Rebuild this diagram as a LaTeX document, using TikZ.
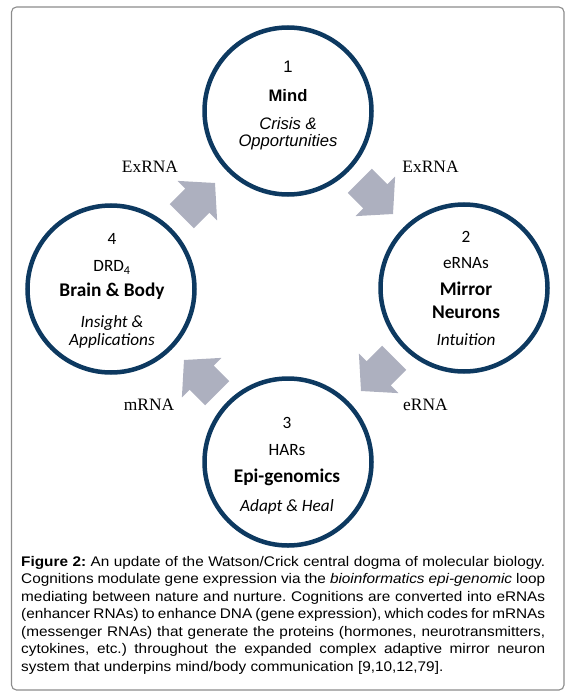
\documentclass[tikz,border=0pt]{standalone}
\usepackage{fontspec}
\setmainfont{Liberation Serif}
\newfontfamily\arialf{Liberation Sans}
\newfontfamily\capf[FakeStretch=1.1]{Liberation Sans}
\newfontfamily\calf{Carlito}
\newfontfamily\timesf{Liberation Serif}
\definecolor{circnavy}{HTML}{0D3960}
\definecolor{arrowgray}{HTML}{ADB0BF}
\definecolor{framegray}{HTML}{8C8C8C}
\tikzset{
  ring/.style={circle, draw=circnavy, line width=4.5bp, minimum size=167bp, inner sep=0pt},
  atxt/.style={anchor=base, inner sep=0pt, font=\arialf\fontsize{16.7}{20}\selectfont},
  ctxt/.style={anchor=base, inner sep=0pt, font=\calf\fontsize{17.3}{20}\selectfont},
  cbold/.style={anchor=base, inner sep=0pt, font=\calf\bfseries\fontsize{19.4}{22}\selectfont},
  lbl/.style={anchor=base, inner sep=0pt, font=\timesf\fontsize{17.5}{20}\selectfont},
  blockarrow/.pic={\fill[arrowgray] (0,0) -- (-25,28) -- (-25,17) -- (-47,17) -- (-47,-17) -- (-25,-17) -- (-25,-28) -- cycle;}
}
\begin{document}
\begin{tikzpicture}[x=1bp,y=-1bp]
\useasboundingbox (0,0) rectangle (573,699);
\draw[framegray, line width=1.1bp, rounded corners=5bp] (11.5,7) rectangle (564,690);

% circles
\node[ring] (mind) at (288,111) {};
\node[ring] (mirror) at (464,288) {};
\node[ring] (epi) at (288,462) {};
\node[ring] (brain) at (111,289) {};

% top circle text
\node[atxt] (t1) at (288,72.7) {1};
\node[atxt, font=\arialf\bfseries\fontsize{16.7}{20}\selectfont] (t1b) at (288,101.7) {Mind};
\node[atxt, font=\arialf\itshape\fontsize{16.7}{20}\selectfont] (t1c) at (288,129.3) {Crisis \&};
\node[atxt, font=\arialf\itshape\fontsize{16.7}{20}\selectfont] (t1d) at (288,146.7) {Opportunities};

% right circle text
\node[ctxt] (t2) at (466,242.3) {2};
\node[ctxt] (t2a) at (466,268.3) {eRNAs};
\node[cbold] (t2b) at (466,295) {Mirror};
\node[cbold] (t2c) at (466,318.3) {Neurons};
\node[ctxt, font=\calf\itshape\fontsize{17.3}{20}\selectfont] (t2d) at (466,345) {Intuition};

% bottom circle text
\node[ctxt] (t3) at (287,428) {3};
\node[ctxt] (t3a) at (287,455) {HARs};
\node[cbold] (t3b) at (287,482) {Epi-genomics};
\node[ctxt, font=\calf\itshape\fontsize{17.3}{20}\selectfont] (t3c) at (287,511) {Adapt \& Heal};

% left circle text
\node[ctxt] (t4) at (112,244) {4};
\node[ctxt] (t4a) at (112,271.7) {DRD\textsubscript{4}};
\node[cbold] (t4b) at (112,296.7) {Brain \& Body};
\node[ctxt, font=\calf\itshape\fontsize{17.3}{20}\selectfont] (t4c) at (112,327.7) {Insight \&};
\node[ctxt, font=\calf\itshape\fontsize{17.3}{20}\selectfont] (t4d) at (112,345) {Applications};

% block arrows
\pic[rotate=45] (a1) at (215,183) {blockarrow};
\pic[rotate=-45] (a2) at (393,214) {blockarrow};
\pic[rotate=-135] (a3) at (361,391) {blockarrow};
\pic[rotate=135] (a4) at (184,360) {blockarrow};

% labels
\node[lbl] (l1) at (150,172.3) {ExRNA};
\node[lbl] (l2) at (430.5,172.3) {ExRNA};
\node[lbl] (l3) at (425.5,410) {eRNA};
\node[lbl] (l4) at (149,410.7) {mRNA};

% caption
\node[anchor=base west, inner sep=0pt, font=\capf\fontsize{14}{17.6}\selectfont] (cap) at (21,566) {\parbox[t]{524bp}{\frenchspacing\hyphenpenalty=10000\exhyphenpenalty=10000%
\textbf{Figure 2:} An update of the Watson/Crick central dogma of molecular biology.\linebreak
Cognitions modulate gene expression via the \textit{bioinformatics epi-genomic} loop\linebreak
mediating between nature and nurture. Cognitions are converted into eRNAs\linebreak
(enhancer RNAs) to enhance DNA (gene expression), which codes for mRNAs\linebreak
(messenger RNAs) that generate the proteins (hormones, neurotransmitters,\linebreak
cytokines, etc.) throughout the expanded complex adaptive mirror neuron\linebreak
system that underpins mind/body communication [9,10,12,79].}};
\end{tikzpicture}
\end{document}
